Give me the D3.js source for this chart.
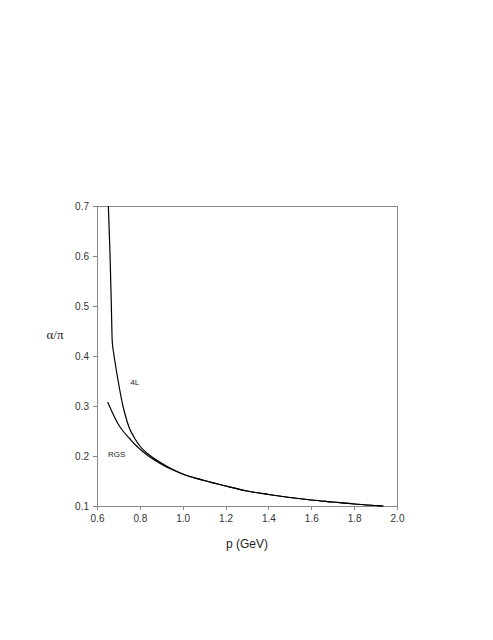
<!DOCTYPE html>
<html>
<head>
<meta charset="utf-8">
<script src="https://cdn.jsdelivr.net/npm/d3@7"></script>
<style>
  body { margin: 0; background: #fff; }
  .axis path, .axis line { stroke: #888; shape-rendering: crispEdges; }
  .axis text { font-family: "Liberation Sans", Arial, sans-serif; font-size: 10px; fill: #333; }
  .curve { fill: none; stroke: #000; stroke-width: 1.2px; }
</style>
</head>
<body>
<div id="chart"></div>
<script>
// data
var p4L = [0.653, 0.657, 0.661, 0.664, 0.667, 0.671, 0.678, 0.687, 0.697, 0.707, 0.72, 0.735, 0.75, 0.775, 0.8, 0.83, 0.86, 0.9, 0.95, 1.0, 1.1, 1.2, 1.3, 1.4, 1.5, 1.6, 1.7, 1.8, 1.9, 1.936];
var alpha4L = [0.70, 0.65, 0.60, 0.55, 0.50, 0.43, 0.405, 0.38, 0.354, 0.330, 0.302, 0.277, 0.257, 0.236, 0.220, 0.207, 0.197, 0.186, 0.174, 0.164, 0.151, 0.140, 0.130, 0.123, 0.117, 0.112, 0.108, 0.104, 0.101, 0.100];
var pRGS = [0.650, 0.66, 0.675, 0.7, 0.725, 0.75, 0.775, 0.8, 0.84, 0.88, 0.92, 0.96, 1.0, 1.1, 1.2, 1.3, 1.4, 1.5, 1.6, 1.7, 1.8, 1.9, 1.936];
var alphaRGS = [0.308, 0.298, 0.284, 0.263, 0.248, 0.236, 0.224, 0.214, 0.200, 0.189, 0.179, 0.171, 0.164, 0.151, 0.140, 0.130, 0.123, 0.117, 0.112, 0.108, 0.104, 0.101, 0.100];
var xTicks = [0.6, 0.8, 1.0, 1.2, 1.4, 1.6, 1.8, 2.0];
var yTicks = [0.1, 0.2, 0.3, 0.4, 0.5, 0.6, 0.7];

var margin = {top: 206, right: 96, bottom: 134, left: 97},
    width = 493 - margin.left - margin.right,
    height = 640 - margin.top - margin.bottom;

var x = d3.scaleLinear().domain([0.6, 2.0]).range([0, width]);
var y = d3.scaleLinear().domain([0.1, 0.7]).range([height, 0]);

var xAxis = d3.axisBottom(x).tickValues(xTicks).tickFormat(d3.format(".1f")).tickSizeOuter(0).tickSize(4).tickPadding(5);
var yAxis = d3.axisLeft(y).tickValues(yTicks).tickFormat(d3.format(".1f")).tickSizeOuter(0).tickSize(4).tickPadding(4);

var svg = d3.select("#chart").append("svg")
    .attr("width", 493)
    .attr("height", 640)
  .append("g")
    .attr("transform", "translate(" + margin.left + "," + margin.top + ")");

// frame: top and right
svg.append("line").attr("x1", 0).attr("x2", width).attr("y1", 0).attr("y2", 0)
    .attr("stroke", "#888").style("shape-rendering", "crispEdges");
svg.append("line").attr("x1", width).attr("x2", width).attr("y1", 0).attr("y2", height)
    .attr("stroke", "#888").style("shape-rendering", "crispEdges");

svg.append("g")
    .attr("class", "x axis")
    .attr("transform", "translate(0," + height + ")")
    .call(xAxis);
svg.append("g")
    .attr("class", "y axis")
    .call(yAxis);

var line = d3.line()
    .x(function(d) { return x(d[0]); })
    .y(function(d) { return y(d[1]); })
    .curve(d3.curveMonotoneX);

svg.append("path").attr("class", "curve")
    .attr("d", line(d3.zip(p4L, alpha4L)));
svg.append("path").attr("class", "curve")
    .attr("d", line(d3.zip(pRGS, alphaRGS)));

// curve labels
svg.append("text")
    .attr("x", x(0.755)).attr("y", y(0.3415))
    .style("font-family", "Liberation Sans, Arial, sans-serif")
    .style("font-size", "8px").style("fill", "#222")
    .text("4L");
svg.append("text")
    .attr("x", x(0.651)).attr("y", y(0.1985))
    .style("font-family", "Liberation Sans, Arial, sans-serif")
    .style("font-size", "8px").style("fill", "#222")
    .text("RGS");

// axis titles
svg.append("text")
    .attr("x", x(1.3)).attr("y", height + 42)
    .style("text-anchor", "middle")
    .style("font-family", "Liberation Sans, Arial, sans-serif")
    .style("font-size", "12px").style("fill", "#222")
    .text("p (GeV)");
svg.append("text")
    .attr("x", -42).attr("y", y(0.434))
    .style("text-anchor", "middle")
    .style("font-family", "Liberation Serif, Times New Roman, serif")
    .style("font-size", "13px").style("fill", "#222")
    .text("α/π");
</script>
</body>
</html>
